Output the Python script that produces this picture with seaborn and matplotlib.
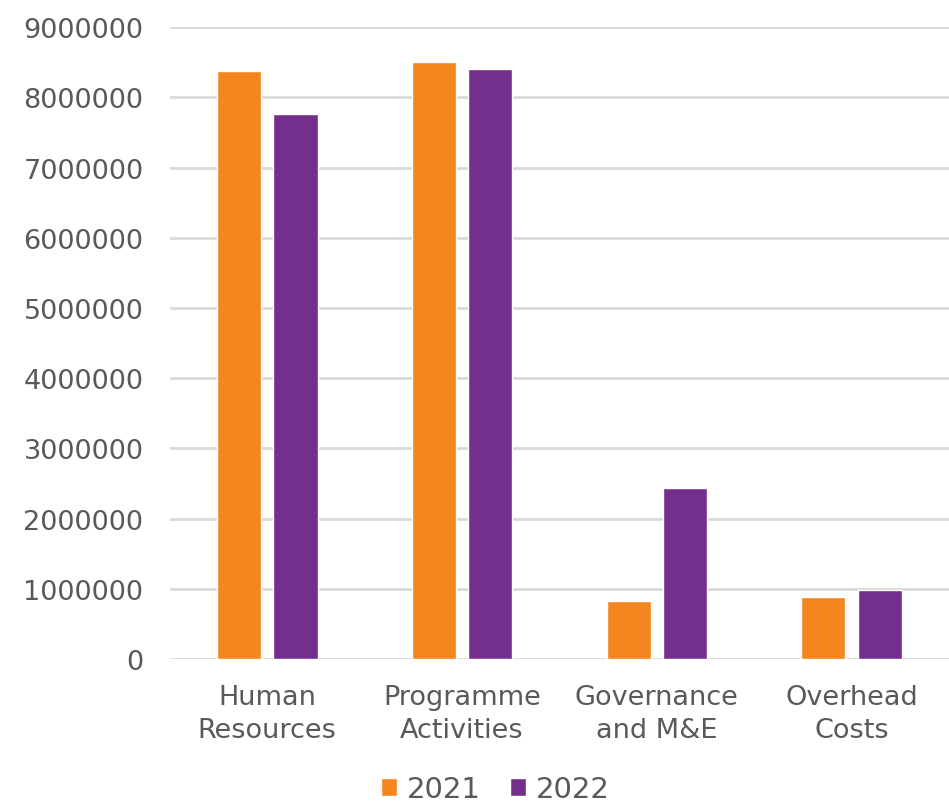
import pandas as pd
import matplotlib
matplotlib.use("Agg")
import matplotlib.pyplot as plt
import seaborn as sns

categories = ["Human\nResources", "Programme\nActivities", "Governance\nand M&E", "Overhead\nCosts"]
years = ["2021", "2022"]
values_2021 = [8370000, 8510000, 820000, 890000]
values_2022 = [7760000, 8410000, 2430000, 990000]

df = pd.DataFrame({
    "category": categories * 2,
    "year": [years[0]] * 4 + [years[1]] * 4,
    "value": values_2021 + values_2022,
})

sns.set_style("white")
plt.rcParams["font.family"] = ["DejaVu Sans"]
text_color = "#595959"

fig = plt.figure(figsize=(9.49, 8.03), dpi=100)
ax = fig.add_axes([0.179, 0.178, 0.821, 0.787])

sns.barplot(
    data=df, x="category", y="value", hue="year",
    palette={"2021": "#f4861f", "2022": "#742e8c"}, saturation=1,
    width=0.58, gap=0.22, edgecolor="white", linewidth=1, ax=ax,
    legend=True,
)

ax.set_ylim(0, 9000000)
ax.set_yticks(range(0, 9000001, 1000000))
ax.set_yticklabels([str(v) for v in range(0, 9000001, 1000000)])
ax.yaxis.grid(True, color="#d9d9d9", linewidth=2)
ax.set_axisbelow(True)
for s in ax.spines.values():
    s.set_visible(False)
ax.set_xlabel("")
ax.set_ylabel("")
ax.tick_params(axis="both", length=0, labelsize=19.5, colors=text_color)
ax.tick_params(axis="x", pad=18)
ax.tick_params(axis="y", pad=19)
for lbl in ax.get_xticklabels():
    lbl.set_linespacing(1.35)

handles, labels = ax.get_legend_handles_labels()
ax.get_legend().remove()
fig.legend(
    handles, labels, loc="center", bbox_to_anchor=(0.522, 0.016),
    ncol=2, frameon=False, fontsize=21, labelcolor=text_color,
    handlelength=0.55, handleheight=0.55, handletextpad=0.35, columnspacing=1.0,
    borderaxespad=0, borderpad=0,
)

fig.savefig("out.png", dpi=100)
